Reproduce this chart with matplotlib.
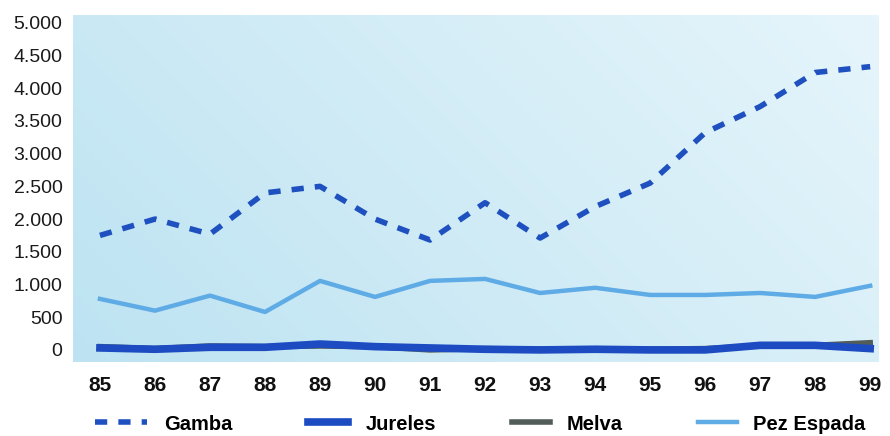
import numpy as np
import matplotlib.pyplot as plt
from matplotlib.colors import LinearSegmentedColormap
from matplotlib.ticker import FuncFormatter

years = [85, 86, 87, 88, 89, 90, 91, 92, 93, 94, 95, 96, 97, 98, 99]
year_labels = [str(y) for y in years]

gamba = [1750, 2000, 1770, 2400, 2500, 2000, 1680, 2250, 1710, 2190, 2550, 3320, 3720, 4240, 4330]
jureles = [30, 10, 40, 40, 90, 50, 30, 10, 0, 10, 0, 0, 70, 70, 20]
melva = [50, 20, 60, 50, 60, 50, 0, 20, 10, 10, 10, 20, 60, 70, 110]
pez_espada = [780, 600, 830, 580, 1055, 810, 1055, 1085, 870, 950, 840, 840, 870, 810, 980]

plt.rcParams['font.family'] = ['Liberation Sans', 'DejaVu Sans']

fig = plt.figure(figsize=(8.9, 4.36), dpi=100)
ax = fig.add_axes([0.082, 0.170, 0.905, 0.796])

x0, x1 = 84.51, 99.15
y0, y1 = -183, 5122

# fondo degradado azul claro
cmap = LinearSegmentedColormap.from_list('bg', ['#bde3f2', '#e6f5fb'])
gx, gy = np.meshgrid(np.linspace(0, 1, 200), np.linspace(0, 1, 100))
ax.imshow(0.7 * gx + 0.3 * gy, cmap=cmap, extent=[x0, x1, y1, y0],
          aspect='auto', zorder=0, interpolation='bilinear')

l_pez, = ax.plot(years, pez_espada, color='#5fabe6', lw=3.2, label='Pez Espada', zorder=2)
l_mel, = ax.plot(years, melva, color='#525c58', lw=4, label='Melva', zorder=3)
l_jur, = ax.plot(years, jureles, color='#1d4cc2', lw=5.5, label='Jureles', zorder=4)
l_gam, = ax.plot(years, gamba, color='#1f50c0', lw=4, dashes=(2.2, 2.0), label='Gamba', zorder=5)

ax.set_xlim(x0, x1)
ax.set_ylim(y0, y1)
ax.set_xticks(years)
ax.set_xticklabels(year_labels, fontsize=15, fontweight='bold')
ax.set_yticks(range(0, 5001, 500))
ax.yaxis.set_major_formatter(FuncFormatter(lambda v, p: f"{int(v):,}".replace(',', '.')))
ax.tick_params(axis='y', labelsize=14, length=0, pad=7.5, colors='#1a1a1a')
ax.tick_params(axis='x', length=0, pad=10, colors='#111111')
for s in ax.spines.values():
    s.set_visible(False)

# leyenda: una entrada por bloque, como en el original
entries = [(l_gam, 'Gamba', 95, 2.6, 0.85),
           (l_jur, 'Jureles', 308, 2.0, 0.85),
           (l_mel, 'Melva', 512, 1.9, 0.8),
           (l_pez, 'Pez Espada', 698, 1.95, 0.8)]
for line, name, xpx, hl, tp in entries:
    fig.legend([line], [name], loc='center left', bbox_to_anchor=(xpx / 890, 1 - 424 / 436),
               frameon=False, borderpad=0, borderaxespad=0, handlelength=hl, handletextpad=tp,
               prop={'weight': 'bold', 'size': 14.5})

plt.savefig('out.png', dpi=100)
